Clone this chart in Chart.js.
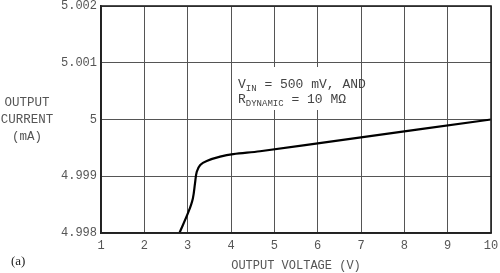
<!DOCTYPE html>
<html>
<head>
<meta charset="utf-8">
<script src="https://cdn.jsdelivr.net/npm/chart.js@4/dist/chart.umd.min.js"></script>
<style>
  html,body{margin:0;padding:0;background:#fff;}
  #wrap{width:500px;height:273px;position:relative;}
</style>
</head>
<body>
<div id="wrap"><canvas id="ivChart" width="500" height="273"></canvas></div>
<script>
// output voltage (V) vs output current (mA)
const voltage=[2.81,3.02,3.12,3.17,3.21,3.29,3.44,3.75,4.05,4.67,6.75,10];
const current=[4.998,4.998375,4.99861,4.99888,4.99908,4.9992,4.99927,4.999345,4.99939,4.99944,4.99966,5.0];

const xTicks=[1,2,3,4,5,6,7,8,9,10];
const yTicks=[4.998,4.999,5,5.001,5.002];
const yTickLabels=['4.998','4.999','5','5.001','5.002'];

const monoFont="'Liberation Mono', 'DejaVu Sans Mono', monospace";

// horizontal y title, "(a)" tag, annotation box and frame
const extras={
  id:'extras',
  afterDraw(chart){
    const c=chart.ctx, a=chart.chartArea;
    c.save();
    c.strokeStyle='#222';c.lineWidth=1.6;
    c.strokeRect(a.left,a.top,a.right-a.left,a.bottom-a.top);

    c.fillStyle='#555';
    c.font="12.5px "+monoFont;
    c.textAlign='center';c.textBaseline='middle';
    ['OUTPUT','CURRENT','(mA)'].forEach((t,i)=>c.fillText(t,27,103+i*17));

    c.fillStyle='#222';
    c.font="13px 'Liberation Serif', serif";
    c.textAlign='left';
    c.fillText('(a)',11,262);

    // annotation
    c.fillStyle='#fff';
    c.fillRect(234,67,126,43);
    c.fillStyle='#444';
    c.textBaseline='alphabetic';
    c.font="13px "+monoFont;
    let x=238;
    c.fillText('V',x,88); x+=c.measureText('V').width;
    c.font="9px "+monoFont;
    c.fillText('IN',x,91); x+=c.measureText('IN').width;
    c.font="13px "+monoFont;
    c.fillText(' = 500 mV, AND',x,88);
    x=238;
    c.fillText('R',x,103); x+=c.measureText('R').width;
    c.font="9px "+monoFont;
    c.fillText('DYNAMIC',x,106); x+=c.measureText('DYNAMIC').width;
    c.font="13px "+monoFont;
    c.fillText(' = 10 M\u03A9',x,103);
    c.restore();
  }
};

new Chart(document.getElementById('ivChart').getContext('2d'),{
  type:'line',
  data:{
    datasets:[{
      data:voltage.map((v,i)=>({x:v,y:current[i]})),
      borderColor:'#000',
      borderWidth:2.2,
      pointRadius:0,
      tension:0.35,
      fill:false
    }]
  },
  options:{
    responsive:false,
    animation:false,
    devicePixelRatio:1,
    layout:{padding:{left:0,right:9,top:6,bottom:0}},
    plugins:{legend:{display:false},tooltip:{enabled:false},title:{display:false}},
    scales:{
      x:{
        type:'linear',min:1,max:10,
        afterBuildTicks:s=>{s.ticks=xTicks.map(v=>({value:v}));},
        afterFit:s=>{s.height=40;s.paddingLeft=0;s.paddingRight=0;},
        grid:{color:'#555',lineWidth:1,drawTicks:false},
        border:{color:'#222',width:1.6},
        ticks:{color:'#555',padding:6,font:{family:monoFont,size:12}},
        title:{display:true,text:'OUTPUT VOLTAGE (V)',color:'#555',
          font:{family:monoFont,size:12},padding:{top:0,bottom:0}}
      },
      y:{
        type:'linear',min:4.998,max:5.002,
        afterBuildTicks:s=>{s.ticks=yTicks.map(v=>({value:v}));},
        afterFit:s=>{s.width=101;s.paddingTop=0;s.paddingBottom=0;},
        grid:{color:'#555',lineWidth:1,drawTicks:false},
        border:{color:'#222',width:1.6},
        ticks:{color:'#555',padding:4,font:{family:monoFont,size:12},
          callback:(v,i)=>yTickLabels[i]}
      }
    }
  },
  plugins:[extras]
});
</script>
</body>
</html>
